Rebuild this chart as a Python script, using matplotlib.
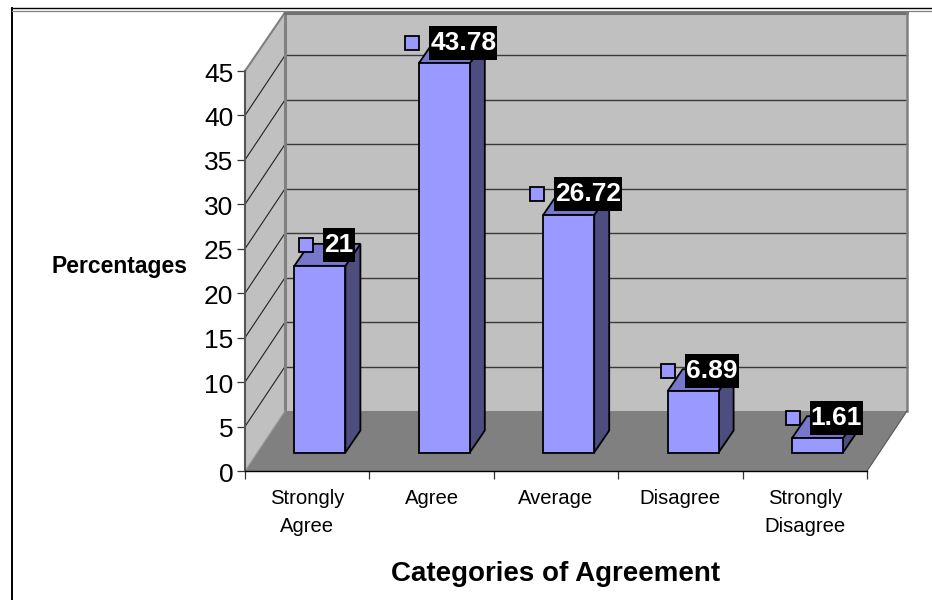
#!/usr/bin/env python3
"""Pseudo-3D column chart: percentages per category of agreement."""
import matplotlib
matplotlib.use("Agg")
import matplotlib.pyplot as plt
from matplotlib.lines import Line2D
from matplotlib.patches import Polygon, Rectangle
from matplotlib.transforms import ScaledTranslation

plt.rcParams['font.family'] = ['Liberation Sans', 'DejaVu Sans']

categories = ["Strongly\nAgree", "Agree", "Average", "Disagree", "Strongly\nDisagree"]
values = [21, 43.78, 26.72, 6.89, 1.61]
value_labels = ["21", "43.78", "26.72", "6.89", "1.61"]
y_ticks = [0, 5, 10, 15, 20, 25, 30, 35, 40, 45]

W, H = 932, 600
C_WALL = "#c0c0c0"
C_FLOOR = "#808080"
C_EDGE = "#808080"
C_FRONT = "#9999ff"
C_SIDE = "#4d4d80"
C_TOP = "#7777cc"

fig = plt.figure(figsize=(W/100, H/100), dpi=100, facecolor="white")
ax = fig.add_axes([245/W, (H-471)/H, 622/W, 400/H])
ax.set_xlim(0, 5)
ax.set_ylim(0, 45)
ax.patch.set_visible(False)

# pixel -> data units
ux = 5/622
uy = 45/400
DX, DY = 40*ux, 60*uy          # depth of the whole plot box
BAR_W = 51*ux
BAR_DX, BAR_DY = 15*ux, 22*uy  # depth of a column
SHIFT_X, BASE = 12.7*ux, 18.5*uy  # columns stand a bit inside the floor


def poly(pts, fc, ec="none", lw=0, z=1):
    ax.add_patch(Polygon(pts, closed=True, facecolor=fc, edgecolor=ec,
                         linewidth=lw, zorder=z, clip_on=False, joinstyle="miter"))


# ── walls and floor ──
top = y_ticks[-1]
poly([(DX, DY), (5+DX, DY), (5+DX, top+DY-1.5*uy), (DX, top+DY-1.5*uy)], C_WALL)
poly([(0, 0), (DX, DY), (DX, top+DY-1.5*uy), (0, top)], C_WALL)
poly([(0, 0), (5, 0), (5+DX, DY), (DX, DY)], C_FLOOR)

for v in y_ticks[1:-1]:
    ax.plot([0, DX], [v, v+DY], color="#222222", lw=0.8, zorder=2, clip_on=False)
    ax.plot([DX, 5+DX], [v+DY, v+DY], color="#3a3a3a", lw=1.0, zorder=2, clip_on=False)

# wall outlines
ax.plot([0, DX], [top, top+DY-1.5*uy], color=C_EDGE, lw=1.5, zorder=3, clip_on=False)
ax.plot([DX, DX], [DY, top+DY-1.5*uy], color=C_EDGE, lw=2.2, zorder=3, clip_on=False)
ax.plot([DX, 5+DX], [top+DY-1.5*uy]*2, color="#707070", lw=2.2, zorder=3, clip_on=False)
ax.plot([5+DX, 5+DX], [DY, top+DY-1.5*uy], color=C_EDGE, lw=1.8, zorder=3, clip_on=False)
ax.plot([0, DX], [0, DY], color="#999999", lw=0.8, zorder=3, clip_on=False)
ax.plot([5, 5+DX], [0, DY], color="#555555", lw=0.8, zorder=3, clip_on=False)

# ── columns ──
centers = [i + 0.5 + SHIFT_X for i in range(len(values))]
ax.bar(centers, values, width=BAR_W, bottom=BASE, color=C_FRONT, edgecolor="black",
       linewidth=1.3, zorder=5, clip_on=False)
for c, v in zip(centers, values):
    l, r = c - BAR_W/2, c + BAR_W/2
    t = BASE + v
    poly([(r, BASE), (r+BAR_DX, BASE+BAR_DY), (r+BAR_DX, t+BAR_DY), (r, t)],
         C_SIDE, "black", 1.3, 4)
    poly([(l, t), (r, t), (r+BAR_DX, t+BAR_DY), (l+BAR_DX, t+BAR_DY)],
         C_TOP, "black", 1.3, 4)

# ── value labels: black box, legend key on the left ──
renderer = fig.canvas.get_renderer()
to_data = ax.transData.inverted()
for c, v, lab in zip(centers, values, value_labels):
    x = c + 19*ux
    y = BASE + v + 20.5*uy
    txt = ax.text(x, y, lab, ha="center", va="center", fontsize=19, fontweight="bold",
                  color="white", zorder=9, clip_on=False)
    bb = txt.get_window_extent(renderer)
    x0 = to_data.transform((bb.x0 - 1, bb.y0))[0]
    x1 = to_data.transform((bb.x1 + 1, bb.y0))[0]
    ax.add_patch(Rectangle((x0, y - 17*uy), x1 - x0, 34*uy, facecolor="black",
                           linewidth=0, zorder=8, clip_on=False))
    ax.plot([x0 - 17*ux], [y], marker="s", ms=10.5, mfc=C_FRONT, mec="black", mew=1.3,
            zorder=9, clip_on=False, ls="none")

# ── axes ──
for s in ("top", "right"):
    ax.spines[s].set_visible(False)
ax.spines["left"].set_color("#555555")
ax.spines["left"].set_linewidth(1.5)
ax.spines["left"].set_zorder(6)
ax.spines["bottom"].set_color("black")
ax.spines["bottom"].set_linewidth(1.0)
ax.spines["bottom"].set_zorder(6)

ax.set_yticks(y_ticks)
ax.set_yticklabels([str(v) for v in y_ticks], fontsize=19)
ax.tick_params(axis="y", length=5.8, width=0.9, color="#333333", pad=2.5)
nudge = ScaledTranslation(0, -1/100, fig.dpi_scale_trans)
for lbl in ax.get_yticklabels():
    lbl.set_transform(lbl.get_transform() + nudge)
ax.set_xticks(range(6))
ax.set_xticklabels([])
ax.tick_params(axis="x", which="major", length=5.8, width=0.9, color="#333333")
ax.set_xticks([i + 0.5 for i in range(5)], minor=True)
ax.set_xticklabels(categories, minor=True, fontsize=14.6, linespacing=1.6)
ax.tick_params(axis="x", which="minor", length=0, pad=13.2)

fig.text(119.5/W, 1-266/H, "Percentages", fontsize=16.5, fontweight="bold",
         ha="center", va="center")
fig.text(556/W, 1-574/H, "Categories of Agreement", fontsize=20, fontweight="bold",
         ha="center", va="center")

# ── outer frame ──
fig.add_artist(Line2D([12/W, 12/W], [0, 1-8/H], color="black", lw=1.4))
fig.add_artist(Line2D([12/W, 1], [1-8/H, 1-8/H], color="black", lw=1.0))
fig.add_artist(Line2D([12/W, 1], [1-10.5/H, 1-10.5/H], color="#808080", lw=0.9))

fig.savefig("out.png", dpi=100)
